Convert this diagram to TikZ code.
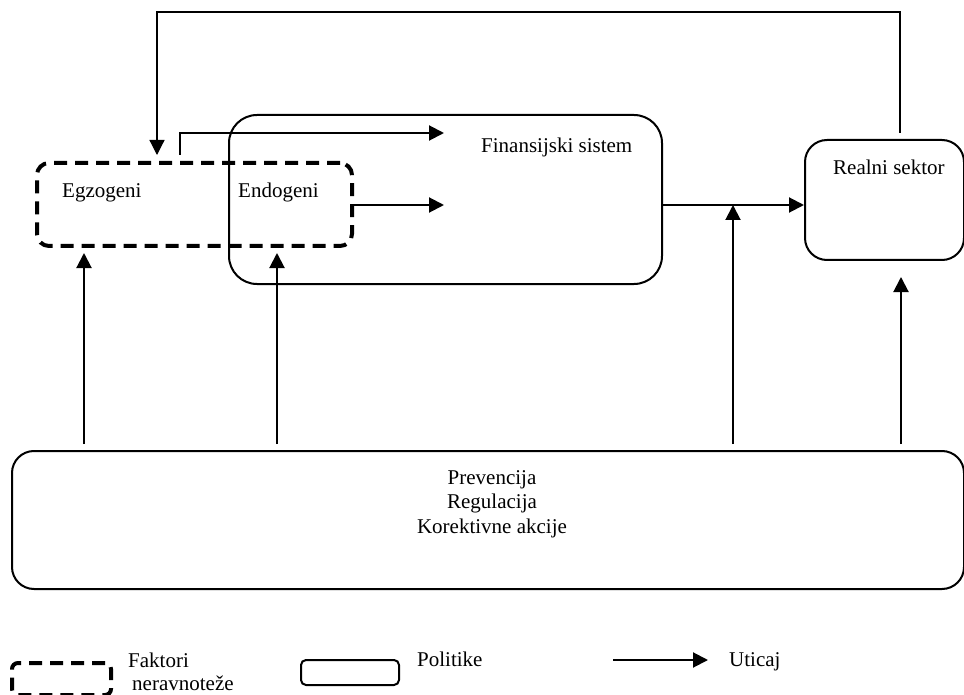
\documentclass[tikz,border=0pt]{standalone}
\usepackage{fontspec}
\setmainfont{Liberation Serif}
\usetikzlibrary{arrows.meta}
\begin{document}
\begin{tikzpicture}[x=1pt,y=-1pt,
  lbl/.style={inner sep=0pt, anchor=base west, font=\fontsize{21}{24}\selectfont},
  policy/.style={draw, line width=2pt, rounded corners=#1, anchor=north west, inner sep=0pt},
  factor/.style={draw, line width=4pt, dash pattern=on 13pt off 8pt, rounded corners=#1, anchor=north west, inner sep=0pt},
  arr/.style={line width=2pt, -{Triangle[length=15pt,width=15pt]}},
  feedback/.style={line width=1.2pt, -{Triangle[length=15pt,width=15pt]}}
]
\useasboundingbox (0,0) rectangle (964,695);

% main boxes
\node[policy=28pt, minimum width=433pt, minimum height=169pt] (fin) at (228,114) {};
\node[factor=12pt, minimum width=315pt, minimum height=83pt] (fac) at (35,161) {};
\node[policy=22pt, minimum width=159pt, minimum height=120pt] (real) at (804,139) {};
\node[policy=22pt, minimum width=952pt, minimum height=138pt] (pol) at (11,450) {};

% labels
\node[lbl] (egz) at (62,198) {Egzogeni};
\node[lbl] (endo) at (238,198) {Endogeni};
\node[lbl] (fintxt) at (481,153) {Finansijski sistem};
\node[lbl] (realtxt) at (833,175) {Realni sektor};
\node[inner sep=0pt, align=center, font=\fontsize{21}{24.5}\selectfont] (poltxt) at (492,504)
  {Prevencija\\Regulacija\\Korektivne akcije};

% connector end points
\coordinate (facTop) at (180,155);
\coordinate (finIn1) at (444,133);
\coordinate (facRight) at (350,205);
\coordinate (finIn2) at (444,205);
\coordinate (finOut) at (661,205);
\coordinate (realIn) at (804,205);
\coordinate (realTop) at (900,133);
\coordinate (fbCornerR) at (900,12);
\coordinate (fbCornerL) at (157,12);
\coordinate (facIn) at (157,155);
\coordinate (polA) at (84,444);
\coordinate (polB) at (277,444);
\coordinate (polC) at (733,444);
\coordinate (polD) at (901,444);
\coordinate (egzIn) at (84,253);
\coordinate (endoIn) at (277,253);
\coordinate (mergeIn) at (733,205);
\coordinate (realBot) at (901,277);

% influences
\draw[arr] (facTop) |- (finIn1);
\draw[arr] (facRight) -- (finIn2);
\draw[arr] (finOut) -- (realIn);
\draw[feedback] (realTop) -- (fbCornerR) -- (fbCornerL) -- (facIn);
\draw[arr] (polA) -- (egzIn);
\draw[arr] (polB) -- (endoIn);
\draw[arr] (polC) -- (mergeIn);
\draw[arr] (polD) -- (realBot);

% legend
\node[factor=6pt, minimum width=99pt, minimum height=32pt] (legFac) at (10,661) {};
\node[lbl] (legFacTxt1) at (128,667) {Faktori};
\node[lbl] (legFacTxt2) at (132,690) {neravnoteže};
\node[policy=5pt, minimum width=98pt, minimum height=25pt] (legPol) at (300,659) {};
\node[lbl] (legPolTxt) at (417,666) {Politike};
\coordinate (legArrA) at (613,660);
\coordinate (legArrB) at (708,660);
\draw[arr] (legArrA) -- (legArrB);
\node[lbl] (legArrTxt) at (729,666) {Uticaj};
\end{tikzpicture}
\end{document}
